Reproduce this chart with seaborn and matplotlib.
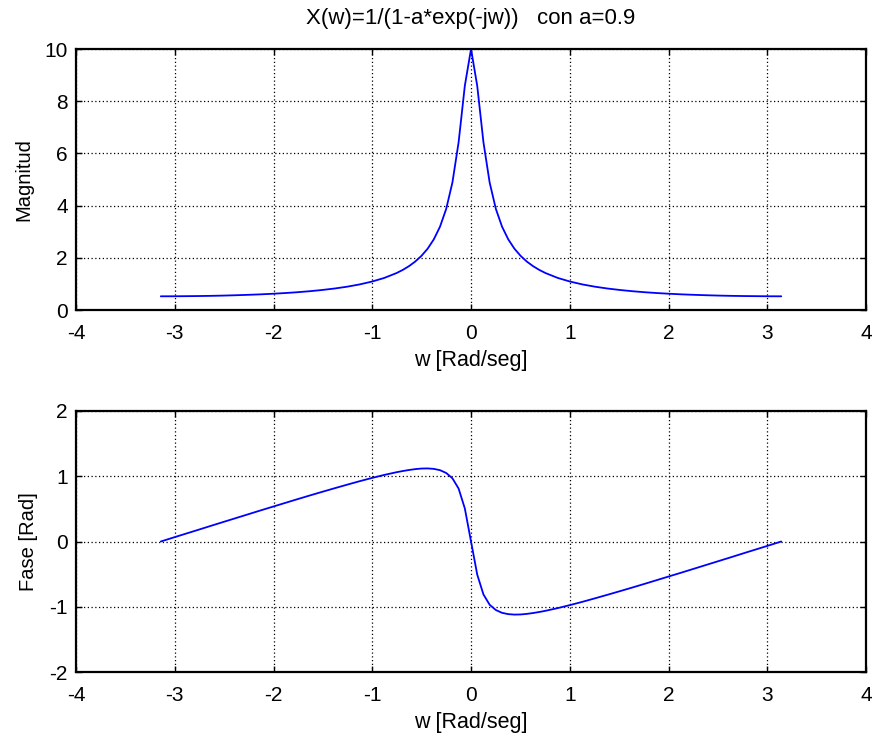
import matplotlib
matplotlib.use("Agg")
import matplotlib.pyplot as plt
import seaborn as sns
import pandas as pd

# Frequency samples (rad/seg)
w = [-3.1416, -3.0159, -2.8903, -2.7646, -2.6389, -2.5133, -2.3876, -2.2619,
     -2.1363, -2.0106, -1.8850, -1.7593, -1.6336, -1.5080, -1.3823, -1.2566,
     -1.1310, -1.0053, -0.8796, -0.7540, -0.6912, -0.6283, -0.5655, -0.5027,
     -0.4398, -0.3770, -0.3142, -0.2513, -0.1885, -0.1257, -0.0628, 0.0,
     0.0628, 0.1257, 0.1885, 0.2513, 0.3142, 0.3770, 0.4398, 0.5027,
     0.5655, 0.6283, 0.6912, 0.7540, 0.8796, 1.0053, 1.1310, 1.2566,
     1.3823, 1.5080, 1.6336, 1.7593, 1.8850, 2.0106, 2.1363, 2.2619,
     2.3876, 2.5133, 2.6389, 2.7646, 2.8903, 3.0159, 3.1416]

magnitud = [0.526, 0.527, 0.531, 0.536, 0.543, 0.553, 0.566, 0.582,
            0.600, 0.623, 0.650, 0.682, 0.721, 0.768, 0.824, 0.893,
            0.979, 1.088, 1.228, 1.417, 1.537, 1.681, 1.856, 2.073,
            2.348, 2.708, 3.193, 3.876, 4.886, 6.429, 8.590, 10.0,
            8.590, 6.429, 4.886, 3.876, 3.193, 2.708, 2.348, 2.073,
            1.856, 1.681, 1.537, 1.417, 1.228, 1.088, 0.979, 0.893,
            0.824, 0.768, 0.721, 0.682, 0.650, 0.623, 0.600, 0.582,
            0.566, 0.553, 0.543, 0.536, 0.531, 0.527, 0.526]

fase = [0.000, 0.060, 0.119, 0.178, 0.238, 0.297, 0.356, 0.415,
        0.474, 0.532, 0.590, 0.648, 0.705, 0.761, 0.816, 0.870,
        0.923, 0.973, 1.020, 1.062, 1.080, 1.096, 1.109, 1.118,
        1.120, 1.113, 1.093, 1.050, 0.969, 0.811, 0.507, 0.000,
        -0.507, -0.811, -0.969, -1.050, -1.093, -1.113, -1.120, -1.118,
        -1.109, -1.096, -1.080, -1.062, -1.020, -0.973, -0.923, -0.870,
        -0.816, -0.761, -0.705, -0.648, -0.590, -0.532, -0.474, -0.415,
        -0.356, -0.297, -0.238, -0.178, -0.119, -0.060, 0.000]

xticks = [-4, -3, -2, -1, 0, 1, 2, 3, 4]
mag_yticks = [0, 2, 4, 6, 8, 10]
fase_yticks = [-2, -1, 0, 1, 2]

df = pd.DataFrame({"w": w, "magnitud": magnitud, "fase": fase})

sns.set_theme(style="white")
plt.rcParams["font.family"] = ["Liberation Sans", "DejaVu Sans"]

fig = plt.figure(figsize=(8.73, 7.38), dpi=100)
ax1 = fig.add_axes([0.0871, 0.5799, 0.9049, 0.3537])
ax2 = fig.add_axes([0.0871, 0.0894, 0.9049, 0.3537])

for ax, col, yt, lab in [(ax1, "magnitud", mag_yticks, "Magnitud"),
                         (ax2, "fase", fase_yticks, "Fase [Rad]")]:
    sns.lineplot(data=df, x="w", y=col, ax=ax, sort=False, color="#0000ff",
                 linewidth=1.3, estimator=None)
    ax.set_xlim(xticks[0], xticks[-1])
    ax.set_ylim(yt[0], yt[-1])
    ax.set_xticks(xticks)
    ax.set_yticks(yt)
    ax.set_xticklabels([str(t) for t in xticks])
    ax.set_yticklabels([str(t) for t in yt])
    ax.grid(True, color="black", linestyle=(0, (1, 2)), linewidth=0.9)
    ax.set_axisbelow(True)
    for s in ax.spines.values():
        s.set_color("black")
        s.set_linewidth(1.6)
        s.set_visible(True)
    ax.tick_params(direction="in", length=4, width=1, colors="black",
                   labelsize=15, top=True, right=True, bottom=True, left=True)
    ax.tick_params(axis="x", pad=10)
    ax.tick_params(axis="y", pad=6)
    ax.set_xlabel("w [Rad/seg]", fontsize=15.5, color="black", labelpad=5)
    ax.set_ylabel(lab, fontsize=14.5, color="black", labelpad=8)

ax1.set_title("X(w)=1/(1-a*exp(-jw))   con a=0.9", fontsize=16, color="black", pad=18)

fig.savefig("out.png", dpi=100, facecolor="white")
